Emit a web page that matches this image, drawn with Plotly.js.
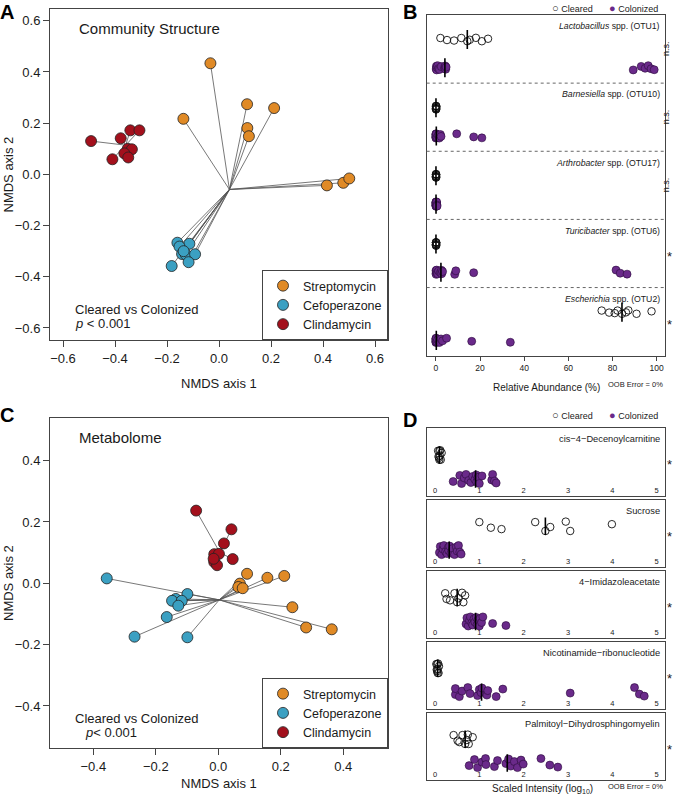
<!DOCTYPE html>
<html><head><meta charset="utf-8">
<script src="https://cdn.plot.ly/plotly-3.0.1.min.js"></script>
<style>html,body{margin:0;padding:0;background:#fff}#chart{width:673px;height:798px}</style>
</head><body><div id="chart"></div>
<script>
// ================= DATA =================
const groups = ['Streptomycin','Cefoperazone','Clindamycin'];
// Panel A: community structure NMDS
const commStrepX = [-0.033,0.108,0.212,-0.137,0.109,0.115,0.415,0.478,0.501];
const commStrepY = [0.434,0.274,0.259,0.217,0.181,0.149,-0.043,-0.033,-0.016];
const commCefX = [-0.160,-0.114,-0.152,-0.142,-0.128,-0.092,-0.117,-0.182,-0.136];
const commCefY = [-0.267,-0.271,-0.282,-0.311,-0.313,-0.312,-0.343,-0.358,-0.300];
const commClinX = [-0.492,-0.378,-0.341,-0.306,-0.351,-0.335,-0.364,-0.349,-0.410];
const commClinY = [0.130,0.141,0.172,0.172,0.100,0.098,0.082,0.066,0.059];
const commCenterColonized = [0.040,-0.059];
const commCenterCleared = [-0.359,0.114];
// Panel C: metabolome NMDS
const metStrepX = [0.092,0.157,0.211,0.069,0.064,0.078,0.237,0.281,0.363];
const metStrepY = [0.031,0.018,0.024,-0.001,-0.012,-0.016,-0.078,-0.144,-0.150];
const metCefX = [-0.357,-0.099,-0.136,-0.148,-0.117,-0.128,-0.165,-0.268,-0.099];
const metCefY = [0.016,-0.035,-0.051,-0.057,-0.057,-0.073,-0.110,-0.174,-0.176];
const metClinX = [-0.071,0.042,0.018,-0.013,0.002,0.046,-0.013,-0.004,-0.015];
const metClinY = [0.237,0.176,0.130,0.095,0.096,0.079,0.069,0.059,0.080];
const metCenterColonized = [0.003,-0.054];
const metCenterCleared = [0.005,0.100];
// Panel B: OTU relative abundance (%)
const otuGenus = ['Lactobacillus','Barnesiella','Arthrobacter','Turicibacter','Escherichia'];
const otuIds = ['OTU1','OTU10','OTU17','OTU6','OTU2'];
const otuSig = ['n.s.','n.s.','n.s.','*','*'];
const otuCleared = [
  [2.0,5.0,8.2,11.5,14.2,15.3,18.1,20.8,23.6],
  [0,0,0,0,0,0.05,0.1,0.1,0.2],
  [0,0,0,0,0,0,0.05,0.1,0.1],
  [0,0,0,0,0,0,0.05,0.1,0.2],
  [75.1,78.5,81.0,82.3,84.3,86.1,87.2,90.9,97.7]
];
const otuColonized = [
  [0.1,0.2,0.3,0.5,0.8,1.2,1.6,2.4,3.9,4.2,4.4,4.6,89.4,93.0,94.8,96.2,97.5,98.9],
  [0,0,0,0,0,0,0,0,0.1,0.2,0.5,1.0,1.5,2.0,2.3,9.4,17.1,20.8],
  [0,0,0,0,0,0,0,0,0,0.05,0.1,0.1,0.2,0.2,0.3,0.3,0.4,0.5],
  [0,0,0.1,0.2,0.3,0.5,0.8,1.2,2.0,2.5,2.6,3.0,8.5,9.0,17.1,81.6,83.5,86.6],
  [0,0,0,0,0,0,0,0,0.1,0.2,0.5,0.8,1.5,2.3,3.0,4.8,16.2,33.7]
];
// Panel D: metabolite scaled intensity (log10)
const metNames = ['cis\u22124\u2212Decenoylcarnitine','Sucrose','4\u2212Imidazoleacetate','Nicotinamide\u2212ribonucleotide','Palmitoyl\u2212Dihydrosphingomyelin'];
const metSig = ['*','*','*','*','*'];
const metCleared = [
  [0.07,0.08,0.09,0.10,0.10,0.11,0.12,0.13,0.15],
  [1.00,1.26,1.50,2.26,2.49,2.60,2.95,3.05,3.99],
  [0.23,0.26,0.34,0.44,0.50,0.53,0.61,0.64,0.68],
  [0.03,0.04,0.05,0.05,0.06,0.06,0.07,0.08,0.09],
  [0.42,0.51,0.55,0.62,0.68,0.72,0.74,0.76,0.85]
];
const metColonized = [
  [0.41,0.56,0.60,0.66,0.70,0.76,0.81,0.85,0.90,0.93,0.94,0.97,1.00,1.06,1.28,1.30,1.34,1.38],
  [0.10,0.12,0.15,0.18,0.20,0.24,0.27,0.30,0.31,0.33,0.36,0.40,0.44,0.48,0.50,0.53,0.56,0.59],
  [0.70,0.72,0.75,0.78,0.80,0.83,0.85,0.88,0.90,0.93,0.95,0.97,1.00,1.02,1.05,1.08,1.30,1.60],
  [0.46,0.46,0.55,0.61,0.74,0.79,0.96,1.00,1.04,1.06,1.17,1.19,1.38,1.53,3.05,4.50,4.61,4.72],
  [0.77,0.89,0.96,1.06,1.14,1.15,1.34,1.41,1.60,1.66,1.71,1.79,1.86,1.94,1.99,2.39,2.59,2.77]
];
const nmdsTicksA = [-0.6,-0.4,-0.2,0,0.2,0.4,0.6];
const nmdsTicksC = [-0.4,-0.2,0,0.2,0.4];
const abundTicks = [0,20,40,60,80,100];
const intensTicks = [0,1,2,3,4,5];

// ================= STYLE / LAYOUT HELPERS =================
const W=673, H=798;
const PX = x => x/W, PY = y => 1 - y/H;
const FONT = '"Liberation Sans", Arial, Helvetica, sans-serif';
const TXT = '#1a1a1a', LINE = '#444';
const COL = {Streptomycin:'#e08a26', Cefoperazone:'#3ba0c2', Clindamycin:'#a3101c'};
const PURPLE = '#6a2a8a';
// visual jitter pattern (vertical offsets only)
const J9 = [-0.9,0.3,0.6,-0.9,1.0,0.15,-1.0,1.0,-0.45];
const J18 = [0.5,-0.7,0.9,-0.2,-0.9,0.3,0.7,-0.5,0.1,-0.8,0.6,-0.3,0.9,-0.6,0.2,-0.9,0.4,0.8];

function median(a){const s=[...a].sort((p,q)=>p-q);const n=s.length;return n%2?s[(n-1)/2]:(s[n/2-1]+s[n/2])/2;}

const traces = [];

function nmdsPanel(xa, ya, legendId, sets, cols, centers){
  const lx=[], ly=[];
  sets.forEach((s,g)=>{
    const c = centers[g];
    s[0].forEach((x,i)=>{ lx.push(x,c[0],null); ly.push(s[1][i],c[1],null); });
  });
  traces.push({type:'scatter',mode:'lines',x:lx,y:ly,xaxis:xa,yaxis:ya,showlegend:false,hoverinfo:'skip',
    line:{color:'#555',width:0.8}});
  sets.forEach((s,g)=>{
    traces.push({type:'scatter',mode:'markers',x:s[0],y:s[1],xaxis:xa,yaxis:ya,name:groups[g],
      legend:legendId,showlegend:true,
      marker:{size:11,color:cols[g],line:{color:'#222',width:0.8}}});
  });
}
nmdsPanel('x','y','legend',
  [[commStrepX,commStrepY],[commCefX,commCefY],[commClinX,commClinY]],
  [COL.Streptomycin,COL.Cefoperazone,COL.Clindamycin],
  [commCenterColonized,commCenterColonized,commCenterCleared]);
nmdsPanel('x3','y3','legend2',
  [[metStrepX,metStrepY],[metCefX,metCefY],[metClinX,metClinY]],
  [COL.Streptomycin,COL.Cefoperazone,COL.Clindamycin],
  [metCenterColonized,metCenterColonized,metCenterCleared]);

// Panel B
(function(){
  const cx=[],cy=[],px=[],py=[],mx=[],my=[];
  otuCleared.forEach((vals,r)=>{
    vals.forEach((v,i)=>{cx.push(v); cy.push(r+0.36+J9[i%9]*0.025);});
    const m=median(vals); mx.push(m,m,null); my.push(r+0.36-0.14,r+0.36+0.14,null);
  });
  otuColonized.forEach((vals,r)=>{
    vals.forEach((v,i)=>{px.push(v); py.push(r+0.775+J18[i%18]*0.035);});
    const m=median(vals); mx.push(m,m,null); my.push(r+0.775-0.14,r+0.775+0.14,null);
  });
  traces.push({type:'scatter',mode:'markers',x:cx,y:cy,xaxis:'x2',yaxis:'y2',showlegend:false,name:'Cleared',
    marker:{symbol:'circle-open',size:7.5,color:'#111',line:{width:0.9,color:'#111'}}});
  traces.push({type:'scatter',mode:'markers',x:px,y:py,xaxis:'x2',yaxis:'y2',showlegend:false,name:'Colonized',
    marker:{size:8,color:PURPLE,line:{width:0.6,color:'#2a0a3a'}}});
  traces.push({type:'scatter',mode:'lines',x:mx,y:my,xaxis:'x2',yaxis:'y2',showlegend:false,hoverinfo:'skip',
    line:{color:'#000',width:1.6}});
})();

// Panel D
metNames.forEach((nm,k)=>{
  const xa='x'+(4+k), ya='y'+(4+k);
  const cl=metCleared[k], co=metColonized[k];
  traces.push({type:'scatter',mode:'markers',x:co,y:co.map((v,i)=>0.755+J18[i%18]*0.075),xaxis:xa,yaxis:ya,showlegend:false,name:'Colonized',
    marker:{size:8,color:PURPLE,line:{width:0.6,color:'#2a0a3a'}}});
  traces.push({type:'scatter',mode:'markers',x:cl,y:cl.map((v,i)=>0.40+J9[i%9]*0.07),xaxis:xa,yaxis:ya,showlegend:false,name:'Cleared',
    marker:{symbol:'circle-open',size:7.5,color:'#111',line:{width:0.9,color:'#111'}}});
  const m1=median(cl), m2=median(co);
  traces.push({type:'scatter',mode:'lines',x:[m1,m1,null,m2,m2],y:[0.40-0.13,0.40+0.13,null,0.755-0.13,0.755+0.13],
    xaxis:xa,yaxis:ya,showlegend:false,hoverinfo:'skip',line:{color:'#000',width:1.6}});
});

// ================= LAYOUT =================
const baseAx = {showgrid:false,zeroline:false,showline:true,mirror:true,linecolor:LINE,linewidth:1,
  ticks:'outside',tickcolor:LINE,tickwidth:1,fixedrange:true,
  tickfont:{family:FONT,size:13,color:TXT}};
const legendBase = {bgcolor:'#fff',bordercolor:LINE,borderwidth:1,
  font:{family:FONT,size:12.5,color:TXT},itemwidth:30,tracegroupgap:0,traceorder:'normal'};
const layout = {
  width:W,height:H,margin:{l:0,r:0,t:0,b:0},paper_bgcolor:'#fff',plot_bgcolor:'#fff',
  font:{family:FONT,color:TXT},
  xaxis:{...baseAx,domain:[PX(50),PX(388)],range:[-0.65,0.65],tickvals:nmdsTicksA,tickformat:'.1f',ticklen:6,anchor:'y'},
  yaxis:{...baseAx,domain:[PY(340),PY(9)],range:[-0.647,0.646],tickvals:nmdsTicksA,tickformat:'.1f',ticklen:6,anchor:'x'},
  xaxis2:{...baseAx,domain:[PX(426.7),PX(665)],range:[-4.2,103.8],tickvals:abundTicks,ticklen:4,
    tickfont:{family:FONT,size:8.5,color:TXT},anchor:'y2'},
  yaxis2:{...baseAx,domain:[PY(355.7),PY(15)],range:[5,0],showticklabels:false,ticks:'',anchor:'x2'},
  xaxis3:{...baseAx,domain:[PX(50),PX(388)],range:[-0.5386,0.543],tickvals:nmdsTicksC,tickformat:'.1f',ticklen:6,anchor:'y3'},
  yaxis3:{...baseAx,domain:[PY(748),PY(418.3)],range:[-0.537,0.538],tickvals:nmdsTicksC,tickformat:'.1f',ticklen:6,anchor:'x3'},
  legend:{...legendBase,x:PX(388),xanchor:'right',y:PY(340),yanchor:'bottom'},
  legend2:{...legendBase,x:PX(388),xanchor:'right',y:PY(748),yanchor:'bottom'},
  shapes:[],annotations:[]
};
const dTops=[428,499.5,570.5,641.5,712.5], dBots=[495.5,566.5,638,708.5,779.5];
metNames.forEach((nm,k)=>{
  layout['xaxis'+(4+k)]={...baseAx,domain:[PX(426.7),PX(665)],range:[-0.187,5.188],tickvals:intensTicks,
    ticks:'',ticklabelposition:'inside',tickfont:{family:FONT,size:7.5,color:TXT},anchor:'y'+(4+k)};
  layout['yaxis'+(4+k)]={...baseAx,domain:[PY(dBots[k]),PY(dTops[k])],range:[1,0],showticklabels:false,ticks:'',anchor:'x'+(4+k)};
});
// dashed separators in B
[1,2,3,4].forEach(r=>layout.shapes.push({type:'line',xref:'x2 domain',yref:'y2',x0:0,x1:1,y0:r,y1:r,
  line:{color:'#666',width:1,dash:'3px,3px'}}));

function ann(text,x,y,o){return Object.assign({text,x,y,xref:'paper',yref:'paper',showarrow:false,
  xanchor:'left',yanchor:'middle',font:{family:FONT,size:13,color:TXT}},o||{});}
const A = layout.annotations;
// panel letters
const LF = {family:FONT,size:20,color:'#000'};
A.push(ann('<b>A</b>',PX(7),PY(-1.5),{xanchor:'center',yanchor:'top',font:LF}));
A.push(ann('<b>B</b>',PX(410),PY(-1),{xanchor:'center',yanchor:'top',font:LF}));
A.push(ann('<b>C</b>',PX(7),PY(402),{xanchor:'center',yanchor:'top',font:LF}));
A.push(ann('<b>D</b>',PX(410),PY(407),{xanchor:'center',yanchor:'top',font:LF}));
// A texts
A.push(ann('Community Structure',PX(77),PY(29),{font:{family:FONT,size:15,color:TXT}}));
A.push(ann('Cleared vs Colonized',PX(73),PY(309)));
A.push(ann('<i>p</i> &lt; 0.001',PX(73),PY(323)));
A.push(ann('NMDS axis 1',PX(219),PY(383),{xanchor:'center'}));
A.push(ann('NMDS axis 2',PX(8),PY(174.5),{xanchor:'center',textangle:-90}));
// C texts
A.push(ann('Metabolome',PX(77),PY(437.5),{font:{family:FONT,size:15,color:TXT}}));
A.push(ann('Cleared vs Colonized',PX(73),PY(718)));
A.push(ann('<i>p</i>&lt; 0.001',PX(82.5),PY(732)));
A.push(ann('NMDS axis 1',PX(219),PY(783),{xanchor:'center'}));
A.push(ann('NMDS axis 2',PX(8),PY(583),{xanchor:'center',textangle:-90}));
// B texts
otuGenus.forEach((g,r)=>{
  A.push({text:'<i>'+g+'</i> spp. ('+otuIds[r]+')',xref:'x2 domain',yref:'y2',x:0.988,y:r+0.165,showarrow:false,
    xanchor:'right',yanchor:'middle',font:{family:FONT,size:8.7,color:TXT}});
  const s=otuSig[r];
  A.push({text:s,xref:'paper',yref:'y2',x:PX(s==='*'?669:666),y:r+0.5,showarrow:false,xanchor:'center',yanchor:'middle',
    textangle:s==='*'?0:-90,yshift:s==='*'?-3:0,font:{family:FONT,size:s==='*'?13:9,color:TXT}});
});
A.push(ann('<span style="font-size:11px">\u25CB</span> Cleared',PX(550),PY(0),{yanchor:'top',font:{family:FONT,size:9,color:TXT}}));
A.push(ann('<span style="font-size:11px;color:'+PURPLE+'">\u25CF</span> Colonized',PX(607),PY(0),{yanchor:'top',font:{family:FONT,size:9,color:TXT}}));
A.push(ann('Relative Abundance (%)',PX(546),PY(387),{xanchor:'center',font:{family:FONT,size:10,color:TXT}}));
A.push(ann('OOB Error = 0%',PX(665),PY(384),{xanchor:'right',font:{family:FONT,size:7.5,color:TXT}}));
// D texts
metNames.forEach((nm,k)=>{
  A.push({text:nm,xref:'x'+(4+k)+' domain',yref:'y'+(4+k),x:0.988,y:0.165,showarrow:false,
    xanchor:'right',yanchor:'middle',font:{family:FONT,size:9.3,color:TXT}});
  A.push({text:metSig[k],xref:'paper',yref:'y'+(4+k),x:PX(669),y:0.5,showarrow:false,xanchor:'center',yanchor:'middle',
    yshift:-3,font:{family:FONT,size:13,color:TXT}});
});
A.push(ann('<span style="font-size:11px">\u25CB</span> Cleared',PX(550),PY(415),{font:{family:FONT,size:9,color:TXT}}));
A.push(ann('<span style="font-size:11px;color:'+PURPLE+'">\u25CF</span> Colonized',PX(607),PY(415),{font:{family:FONT,size:9,color:TXT}}));
A.push(ann('Scaled Intensity (log<sub>10</sub>)',PX(542),PY(789),{xanchor:'center',font:{family:FONT,size:10,color:TXT}}));
A.push(ann('OOB Error = 0%',PX(665),PY(786),{xanchor:'right',font:{family:FONT,size:7.5,color:TXT}}));

Plotly.newPlot('chart',traces,layout,{displayModeBar:false,staticPlot:true});
</script></body></html>
